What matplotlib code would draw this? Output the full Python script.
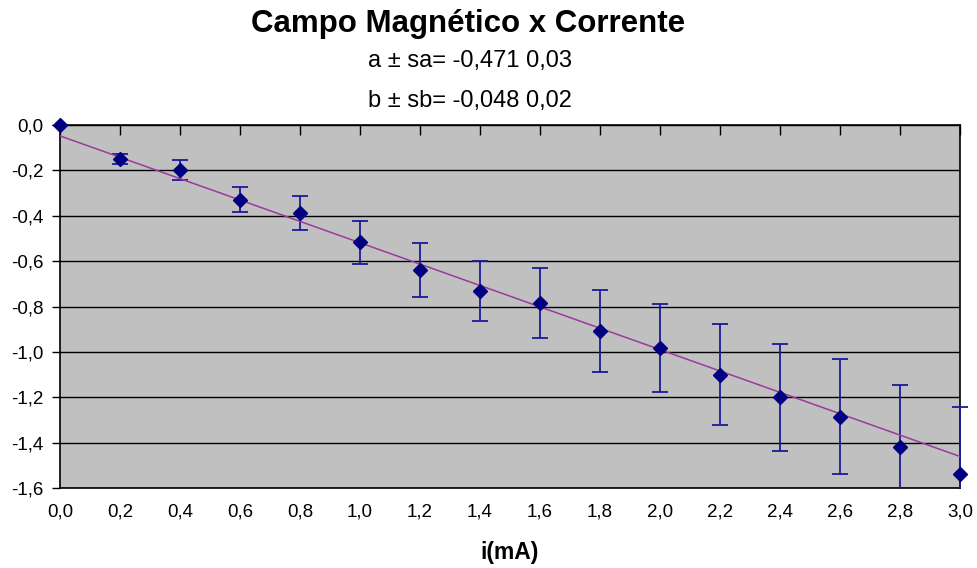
import numpy as np
import matplotlib
matplotlib.use("Agg")
import matplotlib.pyplot as plt
from matplotlib.ticker import FuncFormatter, MultipleLocator
from matplotlib.transforms import Bbox, TransformedBbox

plt.rcParams['font.family'] = ['Liberation Sans', 'DejaVu Sans']

# dados
corrente = [0.0, 0.2, 0.4, 0.6, 0.8, 1.0, 1.2, 1.4, 1.6, 1.8, 2.0, 2.2, 2.4, 2.6, 2.8, 3.0]
campo = [0.0, -0.150, -0.198, -0.33, -0.388, -0.516, -0.639, -0.732, -0.785,
         -0.908, -0.983, -1.10, -1.20, -1.285, -1.42, -1.538]
erro = [0.0, 0.02, 0.045, 0.055, 0.076, 0.095, 0.12, 0.134, 0.156,
        0.18, 0.194, 0.223, 0.235, 0.254, 0.273, 0.294]

# coeficientes do ajuste linear
a = -0.471
b = -0.048

fig = plt.figure(figsize=(9.78, 5.68), dpi=100)
ax = fig.add_axes([60/978, 80/568, 900/978, 363/568])
ax.set_facecolor('#C0C0C0')

eb = ax.errorbar(corrente, campo, yerr=erro, fmt='none', ecolor='#1a1a9a',
                 elinewidth=1.3, capsize=6, capthick=1.3, zorder=3)
# recorta so na vertical (a barra em 3,0 aparece inteira na horizontal)
clip = TransformedBbox(Bbox([[-0.05, 0.0], [1.05, 1.0]]), ax.transAxes)
for art in eb.lines[1] + eb.lines[2]:
    art.set_clip_box(clip)

xs = np.array([0.0, 3.0])
ax.plot(xs, a*xs + b, color='#9b3a9b', lw=1.1, zorder=4)

ax.plot(corrente, campo, linestyle='none', marker='D', markersize=7,
        color='#000080', zorder=5, clip_on=False)

ax.set_xlim(0, 3.0)
ax.set_ylim(-1.6, 0.0)
ax.yaxis.set_major_locator(MultipleLocator(0.2))
ax.xaxis.set_major_locator(MultipleLocator(0.2))
ax.grid(axis='y', color='black', lw=1.0)
ax.set_axisbelow(True)

fmt = FuncFormatter(lambda v, p: ('%.1f' % v).replace('.', ',').replace('-0,0', '0,0'))
ax.xaxis.set_major_formatter(fmt)
ax.yaxis.set_major_formatter(fmt)

ax.tick_params(axis='x', direction='in', length=7, width=1, top=True, bottom=False,
               labeltop=False, labelbottom=True, pad=11, labelsize=13.5)
ax.tick_params(axis='y', direction='out', length=6, width=1, labelsize=13.5, pad=6)

for s in ax.spines.values():
    s.set_color('black')
    s.set_linewidth(1.2)

ax.set_xlabel('i(mA)', fontsize=16.5, fontweight='bold', labelpad=15)

fig.text(0.479, 0.957, 'Campo Magnético x Corrente', ha='center', va='center',
         fontsize=22.5, fontweight='bold')
fig.text(0.481, 0.893, 'a ± sa= -0,471 0,03', ha='center', va='center', fontsize=17)
fig.text(0.481, 0.822, 'b ± sb= -0,048 0,02', ha='center', va='center', fontsize=17)

fig.savefig('out.png', dpi=100)
